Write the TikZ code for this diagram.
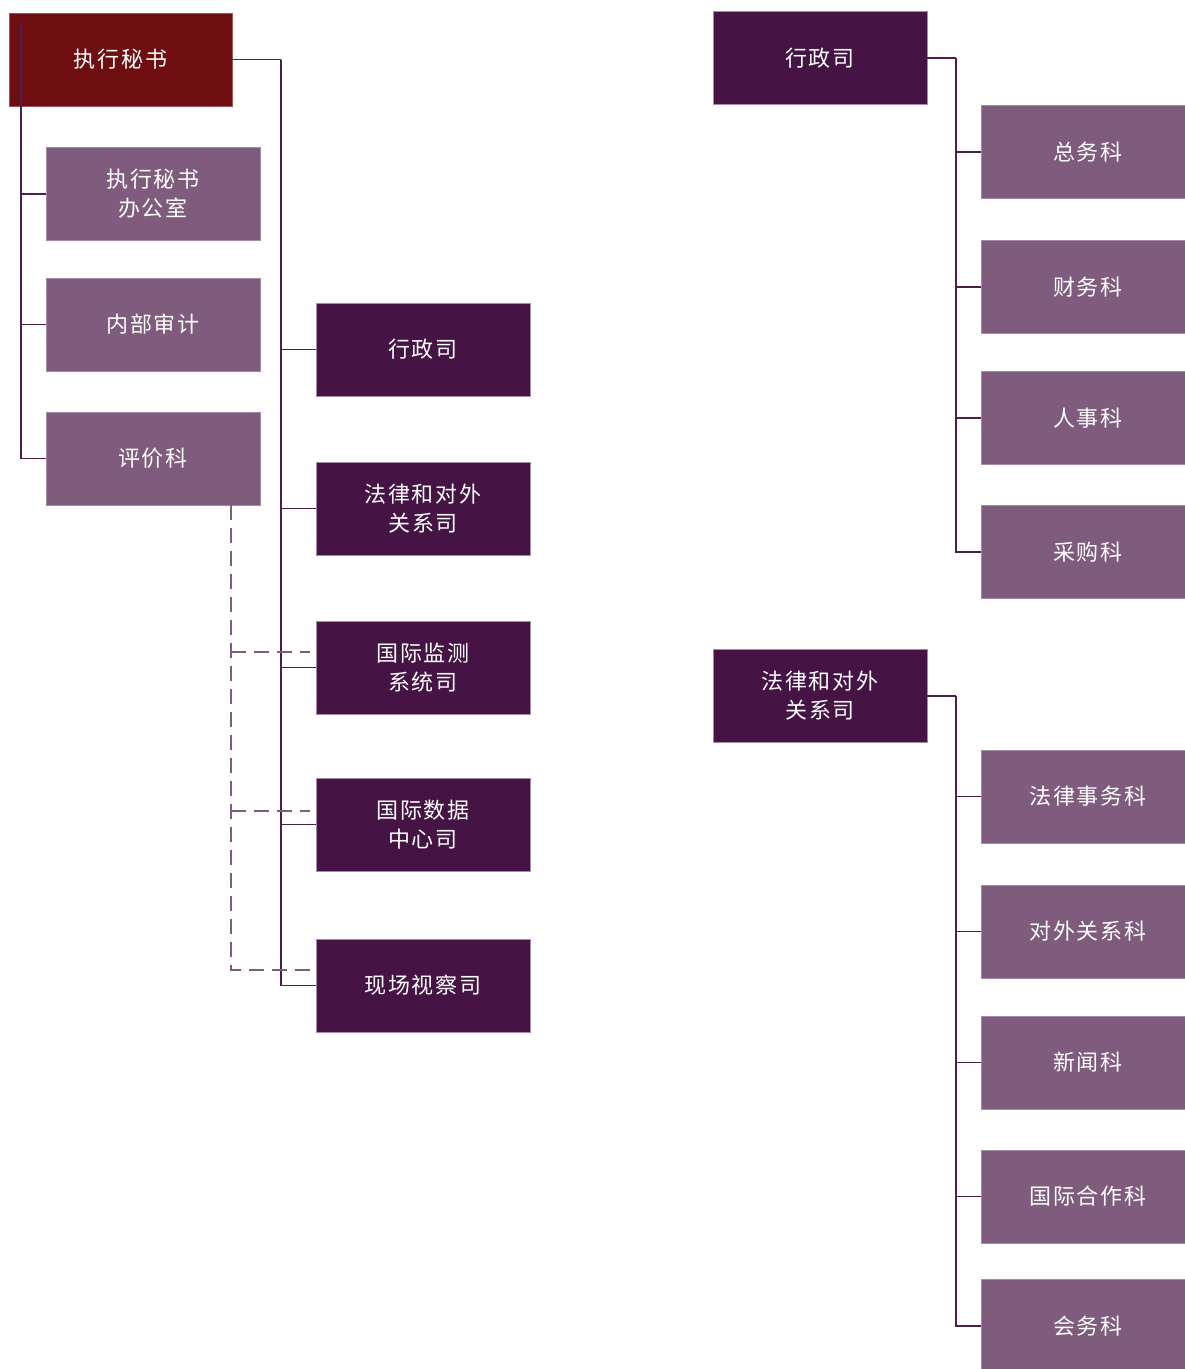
\documentclass[tikz,border=0pt]{standalone}
\usepackage{fontspec}
\newfontfamily\cjk[LetterSpace=8]{Noto Sans CJK SC}
\definecolor{execred}{HTML}{6E0E10}
\definecolor{midpurp}{HTML}{7F5C7D}
\definecolor{darkpurp}{HTML}{451445}
\definecolor{linecol}{HTML}{4B1E4B}
\definecolor{edgecol}{HTML}{A58AA4}
\tikzset{
  box/.style={rectangle, inner sep=0pt, text=white, align=center,
    font=\cjk\fontsize{22}{29}\selectfont, draw=edgecol, line width=0.8pt},
  execbox/.style={box, fill=execred, draw=execred!70!white, minimum width=223pt, minimum height=93pt},
  subbox/.style={box, fill=midpurp, minimum width=214pt, minimum height=93pt},
  deptbox/.style={box, fill=darkpurp, minimum width=214pt, minimum height=93pt},
  secbox/.style={box, fill=midpurp, minimum width=214pt, minimum height=93pt},
  link/.style={draw=linecol, line width=1.1pt},
  dlink/.style={draw=midpurp, line width=1.1pt, dash pattern=on 15pt off 8pt}
}
\begin{document}
\begin{tikzpicture}[x=1pt,y=-1pt]
\useasboundingbox (0,0) rectangle (1185,1369);
% left column
\node[execbox] (exec) at (120.5,59.5) {执行秘书};
\node[subbox] (off) at (153,194) {执行秘书\\办公室};
\node[subbox] (aud) at (153,324.5) {内部审计};
\node[subbox] (eva) at (153,458.5) {评价科};
% middle column
\node[deptbox] (adm) at (423,349.5) {行政司};
\node[deptbox] (leg) at (423,508.5) {法律和对外\\关系司};
\node[deptbox] (ims) at (423,667.5) {国际监测\\系统司};
\node[deptbox] (idc) at (423,824.5) {国际数据\\中心司};
\node[deptbox] (osi) at (423,985.5) {现场视察司};
% right column
\node[deptbox] (adm2) at (820,58) {行政司};
\node[secbox] (s1) at (1088,152) {总务科};
\node[secbox] (s2) at (1088,287) {财务科};
\node[secbox] (s3) at (1088,418) {人事科};
\node[secbox] (s4) at (1088,552) {采购科};
\node[deptbox] (leg2) at (820,696) {法律和对外\\关系司};
\node[secbox] (t1) at (1088,796.5) {法律事务科};
\node[secbox] (t2) at (1088,931.5) {对外关系科};
\node[secbox] (t3) at (1088,1062.5) {新闻科};
\node[secbox] (t4) at (1088,1196.5) {国际合作科};
\node[secbox] (t5) at (1088,1326) {会务科};
% left tree
\coordinate (la) at (21,22);
\draw[link] (la) |- (off.west);
\draw[link] (la) |- (aud.west);
\draw[link] (la) |- (eva.west);
% main trunk
\coordinate (ta) at (281,59.5);
\draw[link] (exec.east) -- (ta);
\foreach \n in {adm,leg,ims,idc,osi} \draw[link] (ta) |- (\n.west);
% dashed evaluation links
\coordinate (da) at (231,505);
\draw[dlink] (da) -- (231,970) -- (310,970);
\draw[dlink] (231,652) -- (310,652);
\draw[dlink] (231,811) -- (310,811);
% right trees
\coordinate (ra) at (956,58);
\draw[link] (adm2.east) -- (ra);
\foreach \n in {s1,s2,s3,s4} \draw[link] (ra) |- (\n.west);
\coordinate (rb) at (956,696);
\draw[link] (leg2.east) -- (rb);
\foreach \n in {t1,t2,t3,t4,t5} \draw[link] (rb) |- (\n.west);
\end{tikzpicture}
\end{document}
